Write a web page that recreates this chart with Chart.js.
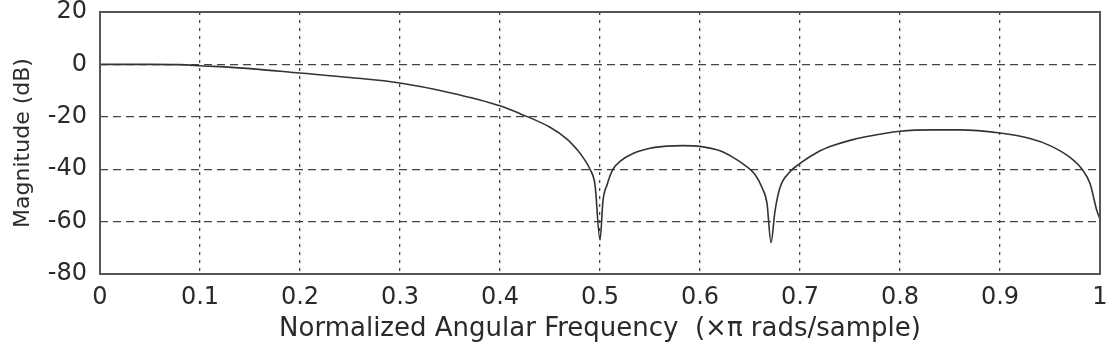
<!DOCTYPE html>
<html>
<head>
<meta charset="utf-8">
<script src="https://cdn.jsdelivr.net/npm/chart.js@4/dist/chart.umd.min.js"></script>
<style>
    html, body { margin: 0; padding: 0; background: #fff; }
    #wrap { width: 1117px; height: 348px; position: relative; }
</style>
</head>
<body>
<div id="wrap"><canvas id="mag-chart"></canvas></div>
<script>
// normalized frequency (x pi rad/sample) and magnitude in dB
const freq = [0, 0.05, 0.08, 0.1, 0.15, 0.2, 0.25, 0.3, 0.35, 0.4, 0.42, 0.45, 0.467, 0.477, 0.483, 0.49, 0.495, 0.5,
    0.503, 0.507, 0.513, 0.52, 0.533, 0.55, 0.567, 0.583, 0.6, 0.62, 0.633, 0.645, 0.655, 0.662, 0.667, 0.671, 0.675, 0.68,
    0.69, 0.7, 0.717, 0.733, 0.75, 0.767, 0.8, 0.833, 0.86, 0.9, 0.93, 0.95, 0.97, 0.982, 0.99, 0.997, 1.0];
const magDb = [0, 0, -0.1, -0.5, -1.6, -3.3, -5.0, -7.1, -10.8, -15.8, -18.8, -24, -28.5, -32.5, -35.5, -40, -46, -67,
    -52, -46, -40, -37, -34, -32, -31.2, -31, -31.3, -33, -35.5, -38.5, -42, -47, -53, -68, -56, -47,
    -41, -37.8, -33.6, -31, -29, -27.5, -25.5, -25, -25, -26.2, -28.3, -31, -35.5, -40, -45.5, -56, -59];
const xTicks = [0, 0.1, 0.2, 0.3, 0.4, 0.5, 0.6, 0.7, 0.8, 0.9, 1];
const xTickLabels = ['0', '0.1', '0.2', '0.3', '0.4', '0.5', '0.6', '0.7', '0.8', '0.9', '1'];
const yTicks = [20, 0, -20, -40, -60, -80];
const xTitle = 'Normalized Angular Frequency  (\u00d7\u03c0 rads/sample)';
const yTitle = 'Magnitude (dB)';

const ink = '#2a2a2a';
const fontFamily = '"DejaVu Sans", sans-serif';

const framePlugin = {
    id: 'frame',
    beforeInit(chart) {
        chart.ctx.letterSpacing = '1px';
    },
    afterDatasetsDraw(chart) {
        const { ctx, chartArea: a } = chart;
        ctx.save();
        ctx.strokeStyle = '#555';
        ctx.lineWidth = 2;
        ctx.setLineDash([]);
        ctx.strokeRect(a.left, a.top, a.right - a.left, a.bottom - a.top);
        ctx.restore();
    },
};

const ctx = document.getElementById('mag-chart').getContext('2d');
ctx.letterSpacing = '1px';

new Chart(ctx, {
    type: 'line',
    data: {
        datasets: [{
            data: freq.map((f, i) => ({ x: f, y: magDb[i] })),
            borderColor: '#333',
            borderWidth: 1.6,
            pointRadius: 0,
            tension: 0,
            cubicInterpolationMode: 'monotone',
            fill: false,
        }],
    },
    options: {
        responsive: true,
        maintainAspectRatio: false,
        animation: false,
        events: [],
        layout: { padding: { top: 12, right: 17, left: 0, bottom: 0 } },
        plugins: { legend: { display: false }, tooltip: { enabled: false } },
        scales: {
            x: {
                type: 'linear',
                min: 0,
                max: 1,
                afterBuildTicks: (s) => { s.ticks = xTicks.map((v) => ({ value: v })); },
                afterFit: (s) => {
                    s.height = 74;
                    s.paddingLeft = 0;
                    s.paddingRight = 0;
                },
                grid: { color: '#444', lineWidth: 1.3, drawTicks: false, tickLength: 0 },
                border: { display: false, dash: [3, 5] },
                ticks: {
                    color: ink,
                    padding: 12,
                    maxRotation: 0,
                    autoSkip: false,
                    font: { size: 24, family: fontFamily, lineHeight: 1 },
                    callback: (v, i) => xTickLabels[i],
                },
                title: {
                    display: true,
                    text: xTitle,
                    color: ink,
                    font: { size: 26, family: fontFamily, lineHeight: 1.2 },
                    padding: { top: 0, bottom: 3 },
                },
            },
            y: {
                min: -80,
                max: 20,
                afterBuildTicks: (s) => { s.ticks = yTicks.map((v) => ({ value: v })); },
                afterFit: (s) => {
                    s.width = 100;
                    s.paddingTop = 0;
                    s.paddingBottom = 0;
                },
                grid: { color: '#444', lineWidth: 1.3, drawTicks: false, tickLength: 0 },
                border: { display: false, dash: [8, 5] },
                ticks: {
                    color: ink,
                    padding: 13,
                    autoSkip: false,
                    font: { size: 24, family: fontFamily, lineHeight: 1 },
                },
                title: {
                    display: true,
                    text: yTitle,
                    color: ink,
                    font: { size: 22, family: fontFamily, lineHeight: 1.2 },
                    padding: { top: 10, bottom: 0 },
                },
            },
        },
    },
    plugins: [framePlugin],
});
</script>
</body>
</html>
